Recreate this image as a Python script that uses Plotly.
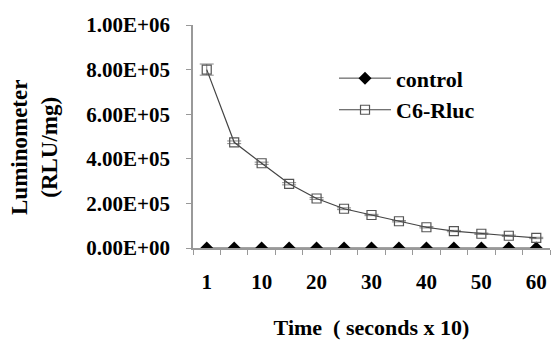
import plotly.graph_objects as go

times = [1, 5, 10, 15, 20, 25, 30, 35, 40, 45, 50, 55, 60]
labelled_times = [1, 10, 20, 30, 40, 50, 60]
control = [0, 0, 0, 0, 0, 0, 0, 0, 0, 0, 0, 0, 0]
c6_rluc = [800000, 474000, 380000, 288000, 222000, 176000, 148000, 120000, 93000, 76000, 64000, 55000, 45000]
c6_err = [25000, 6000, 5000, 5000, 4000, 4000, 3000, 3000, 3000, 3000, 3000, 3000, 3000]
y_ticks = [0, 200000, 400000, 600000, 800000, 1000000]
y_tick_text = ["0.00E+00", "2.00E+05", "4.00E+05", "6.00E+05", "8.00E+05", "1.00E+06"]

pos = list(range(len(times)))
tick_pos = [times.index(t) for t in labelled_times]
boundaries = [i - 0.5 for i in range(len(times) + 1)]

FONT = "Liberation Serif"
fig = go.Figure()
fig.add_trace(go.Scatter(
    x=pos, y=control, name="control", mode="lines+markers",
    line=dict(color="#444444", width=1),
    marker=dict(symbol="diamond", size=10, color="black"),
))
fig.add_trace(go.Scatter(
    x=pos, y=c6_rluc, name="C6-Rluc", mode="lines+markers",
    line=dict(color="#444444", width=1.2),
    marker=dict(symbol="square-open", size=9, color="#555555", line=dict(width=1.2)),
    error_y=dict(type="data", array=c6_err, color="#888888", thickness=1, width=7),
))

fig.update_layout(
    width=551, height=340,
    margin=dict(l=193, r=1, t=25, b=92),
    paper_bgcolor="white", plot_bgcolor="white",
    font=dict(family=FONT, size=21, color="black"),
    showlegend=True,
    legend=dict(x=0.395, y=0.855, xanchor="left", yanchor="top",
                font=dict(family=FONT, size=22, color="black", weight="bold"),
                bgcolor="rgba(0,0,0,0)", itemwidth=52),
    xaxis=dict(
        range=[-0.5, len(times) - 0.5],
        tickmode="array", tickvals=tick_pos, ticktext=[str(t) for t in labelled_times],
        ticks="", showgrid=False, zeroline=False,
        showline=True, linecolor="#999999", linewidth=1.5,
        tickfont=dict(family=FONT, size=21, weight="bold"),
        ticklabelstandoff=14,
        minor=dict(tickmode="array", tickvals=boundaries, ticks="outside",
                   ticklen=5, tickwidth=1, tickcolor="#999999", showgrid=False),
        title=dict(text="Time  ( seconds x 10)", font=dict(family=FONT, size=22, weight="bold"),
                   standoff=28),
    ),
    yaxis=dict(
        range=[0, 1000000],
        tickmode="array", tickvals=y_ticks, ticktext=y_tick_text,
        ticks="outside", ticklen=5, tickwidth=1, tickcolor="#999999",
        showgrid=False, zeroline=False,
        showline=True, linecolor="#999999", linewidth=1.5,
        tickfont=dict(family=FONT, size=21, weight="bold"),
        ticklabelstandoff=12,
    ),
    annotations=[dict(
        text="Luminometer<br>(RLU/mg)", textangle=-90, showarrow=False,
        xref="paper", yref="paper", x=-0.4426, y=0.453,
        xanchor="center", yanchor="middle",
        font=dict(family=FONT, size=23, weight="bold", color="black"),
    )],
)

fig.write_html("out.html")
